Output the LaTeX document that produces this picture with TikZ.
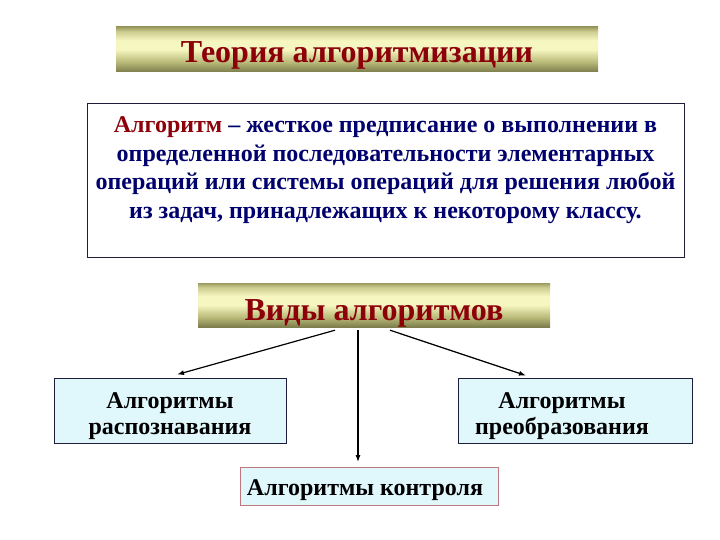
\documentclass[tikz,border=0pt]{standalone}
\usepackage{fontspec}
\setmainfont{Liberation Serif}
\usetikzlibrary{arrows.meta}
\definecolor{dred}{RGB}{140,0,10}
\definecolor{navy}{RGB}{0,0,110}
\definecolor{olivetop}{RGB}{155,155,95}
\definecolor{olivehi}{RGB}{205,205,145}
\definecolor{olivemid}{RGB}{246,246,192}
\definecolor{olivelo}{RGB}{185,185,120}
\definecolor{olivebot}{RGB}{125,125,78}
\definecolor{lcyan}{RGB}{224,247,252}
\definecolor{bdark}{RGB}{30,30,60}
\definecolor{brose}{RGB}{190,120,125}
\pgfdeclareverticalshading{bannershade}{100bp}{%
  color(0bp)=(olivebot); color(25bp)=(olivebot); color(36bp)=(olivelo);
  color(50bp)=(olivemid); color(60bp)=(olivemid); color(70bp)=(olivehi);
  color(75bp)=(olivetop); color(100bp)=(olivetop)}
\tikzset{
  banner/.style={shading=bannershade, inner sep=0pt},
  bannertext/.style={inner sep=0pt, text=dred, anchor=base},
  kindbox/.style={draw=bdark, line width=0.9pt, fill=lcyan, inner sep=0pt},
  kindtext/.style={inner sep=0pt, align=center, font=\fontsize{24}{26}\selectfont\bfseries},
  arr/.style={line width=1.2pt, -{Latex[length=7pt,width=5pt]}}
}
\begin{document}
\begin{tikzpicture}[x=1pt,y=-1pt]
\useasboundingbox (0,0) rectangle (720,540);
% title banner
\node[banner, minimum width=482pt, minimum height=45pt] (title) at (357,49.5) {};
\node[bannertext, font=\fontsize{32}{36}\selectfont\bfseries] (titletext) at (357,63)
  {Теория алгоритмизации};
% definition box
\node[draw=bdark, line width=1pt, fill=white, minimum width=597pt, minimum height=153pt,
  inner sep=0pt] (defbox) at (385.5,180.5) {};
\node[align=center, text=navy, inner sep=0pt,
  font=\fontsize{24}{28.6}\selectfont\bfseries] (deftext) at (385.5,170)
  {\textcolor{dred}{Алгоритм} – жесткое предписание о выполнении в\\
   определенной последовательности элементарных\\
   операций или системы операций для решения любой\\
   из задач, принадлежащих к некоторому классу.};
% kinds banner
\node[banner, minimum width=352pt, minimum height=44pt] (kinds) at (374,305) {};
\node[bannertext, font=\fontsize{32}{36}\selectfont\bfseries] (kindstext) at (374,320)
  {Виды алгоритмов};
% three kinds
\node[kindbox, minimum width=232pt, minimum height=65pt] (rec) at (170,410.5) {};
\node[kindtext] (rectext) at (170,416) {Алгоритмы\\распознавания};
\node[kindbox, minimum width=234pt, minimum height=65pt] (trans) at (575,410.5) {};
\node[kindtext] (transtext) at (562,416) {Алгоритмы\\преобразования};
\node[kindbox, draw=brose, minimum width=258pt, minimum height=38pt] (ctrl) at (369,486.5) {};
\node[kindtext, anchor=base] (ctrltext) at (365,495) {Алгоритмы контроля};
% arrows
\draw[arr] ([xshift=-39pt,yshift=-3pt]kinds.south) -- ([xshift=7pt,yshift=3pt]rec.north);
\draw[arr] ([xshift=16pt,yshift=-3pt]kinds.south) -- ([xshift=-49pt,yshift=2pt]trans.north);
\draw[arr] ([xshift=-16pt,yshift=-3pt]kinds.south) -- ([xshift=-11pt,yshift=5pt]ctrl.north);
\end{tikzpicture}
\end{document}
